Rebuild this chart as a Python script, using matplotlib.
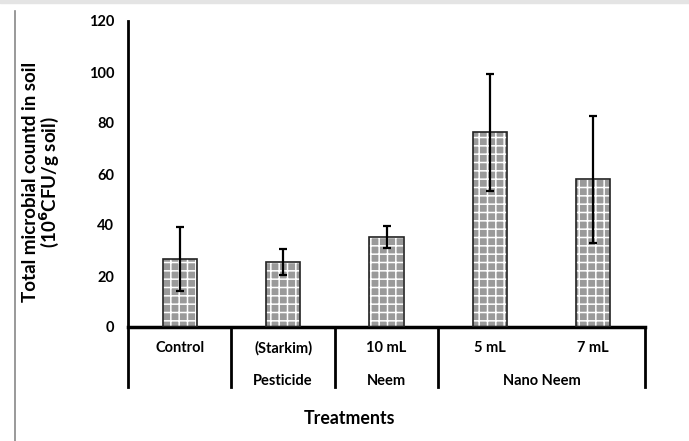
import matplotlib.pyplot as plt
from matplotlib.lines import Line2D

treatments = ['Control', '(Starkim)', '10 mL', '5 mL', '7 mL']
counts = [26.8, 25.5, 35.4, 76.4, 57.9]
errors = [12.5, 5.2, 4.3, 23, 25]
groups = ['Pesticide', 'Neem', 'Nano Neem']
group_pos = [1, 2, 3.5]
dividers = [-0.5, 0.5, 1.5, 2.5, 4.5]

plt.rcParams['font.family'] = ['Lato', 'DejaVu Sans']
plt.rcParams['font.weight'] = 'bold'
plt.rcParams['hatch.linewidth'] = 1.1

fig = plt.figure(figsize=(6.89, 4.41), dpi=100)
ax = fig.add_axes([128 / 689, 1 - 327 / 441, (645 - 128) / 689, (327 - 21) / 441])

x = list(range(len(treatments)))

# patterned fill first, then black outline on top
ax.bar(x, counts, width=0.33, color='#9a9a9a', edgecolor='white', hatch='++', linewidth=0, zorder=2)
ax.bar(x, counts, width=0.33, fill=False, edgecolor='#222222', linewidth=1.2, zorder=3)
ax.errorbar(x, counts, yerr=errors, fmt='none', ecolor='black', elinewidth=1.6,
            capsize=3, capthick=1.6, zorder=4)

ax.set_ylim(0, 120)
ax.set_xlim(-0.5, 4.5)
ax.set_yticks(range(0, 121, 20))
ax.tick_params(axis='y', length=0, pad=10, labelsize=10.5)
ax.set_xticks([])
for s in ['top', 'right', 'bottom']:
    ax.spines[s].set_visible(False)
ax.spines['left'].set_linewidth(2)

# category table below the axis
trans = ax.get_xaxis_transform()
ax.add_line(Line2D([-0.5, 4.5], [0, 0], transform=trans, color='black', lw=2.5, clip_on=False))
for d in dividers:
    ax.add_line(Line2D([d, d], [0, -0.197], transform=trans, color='black', lw=2, clip_on=False))
for xi, t in zip(x, treatments):
    ax.text(xi, -0.069, t, transform=trans, ha='center', va='center', fontsize=10.5, fontweight='bold')
for gp, g in zip(group_pos, groups):
    ax.text(gp, -0.177, g, transform=trans, ha='center', va='center', fontsize=10.5, fontweight='bold')

fig.text(350 / 689, 1 - 418 / 441, 'Treatments', ha='center', va='center', fontsize=12.8, fontweight='bold')
fig.text(31 / 689, 1 - 182 / 441, 'Total microbial countd in soil', rotation=90,
         ha='center', va='center', fontsize=13.5, fontweight='bold')
fig.text(49 / 689, 1 - 182 / 441, '(10$^{\\mathbf{6}}$CFU/g soil)', rotation=90,
         ha='center', va='center', fontsize=13.5, fontweight='bold')

# frame bits from the original crop
fig.patches.append(plt.Rectangle((0, 1 - 3 / 441), 1, 3 / 441, transform=fig.transFigure,
                                 color='#e4e4e4', zorder=0))
fig.lines.append(Line2D([15 / 689, 15 / 689], [0, 1 - 11 / 441], transform=fig.transFigure,
                        color='#888888', lw=1.2))

fig.savefig('out.png', dpi=100)
